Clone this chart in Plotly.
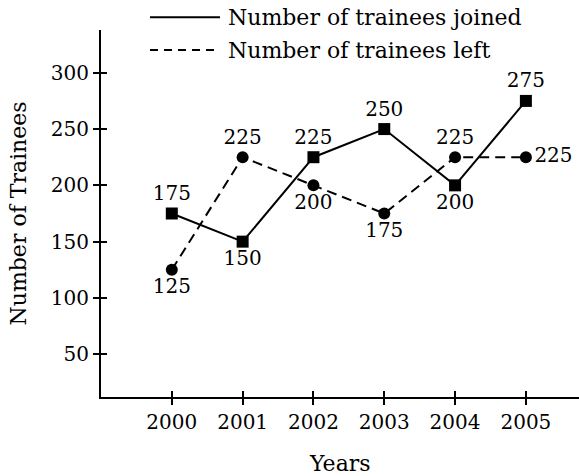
import plotly.graph_objects as go

years = [2000, 2001, 2002, 2003, 2004, 2005]
joined = [175, 150, 225, 250, 200, 275]
left = [125, 225, 200, 175, 225, 225]
joined_pos = ["top center", "bottom center", "top center", "top center", "bottom center", "top center"]
left_pos = ["bottom center", "top center", "bottom center", "bottom center", "top center", "middle right"]
y_ticks = [50, 100, 150, 200, 250, 300]
legend_labels = ["Number of trainees joined", "Number of trainees left"]

FONT = "DejaVu Serif"
FS = 20
FW = 22

fig = go.Figure()
fig.add_trace(go.Scatter(
    x=years, y=joined, mode="lines+markers+text",
    line=dict(color="black", width=2),
    marker=dict(symbol="square", size=12, color="black"),
    text=[str(v) for v in joined], textposition=joined_pos,
    textfont=dict(family=FONT, size=FS, color="black"),
    showlegend=False, cliponaxis=False,
))
fig.add_trace(go.Scatter(
    x=years, y=left, mode="lines+markers+text",
    line=dict(color="black", width=2, dash="10px,6px"),
    marker=dict(symbol="circle", size=12, color="black"),
    text=[str(v) for v in left],
    textposition=left_pos,
    textfont=dict(family=FONT, size=FS, color="black"),
    showlegend=False, cliponaxis=False,
))
# dummy trace for overlay axes (inside ticks -> crossing tick marks)
fig.add_trace(go.Scatter(x=[2000], y=[100], xaxis="x2", yaxis="y2", mode="markers",
                         marker=dict(opacity=0), showlegend=False, hoverinfo="skip"))

xr = [1999.0, 2005.75]
yr = [12, 338]
fig.update_layout(
    width=579, height=476,
    margin=dict(l=101, r=0, t=30, b=79),
    paper_bgcolor="white", plot_bgcolor="white",
    font=dict(family=FONT, size=FS, color="black"),
    xaxis=dict(range=xr, tickvals=years, ticktext=[str(y) for y in years], automargin=False,
               showgrid=False, zeroline=False, showline=True, linecolor="black", linewidth=2,
               ticks="outside", ticklen=6, tickwidth=2, tickcolor="black"),
    yaxis=dict(range=yr, tickvals=y_ticks, automargin=False,
               showgrid=False, zeroline=False, showline=True, linecolor="black", linewidth=2,
               ticks="outside", ticklen=6, tickwidth=2, tickcolor="black"),
    xaxis2=dict(range=xr, overlaying="x", side="bottom", tickvals=years, showticklabels=False,
                automargin=False, showgrid=False, zeroline=False, showline=False,
                ticks="inside", ticklen=6, tickwidth=2, tickcolor="black"),
    yaxis2=dict(range=yr, overlaying="y", side="left", tickvals=y_ticks, showticklabels=False,
                automargin=False, showgrid=False, zeroline=False, showline=False,
                ticks="inside", ticklen=6, tickwidth=2, tickcolor="black"),
)

# axis titles
fig.add_annotation(xref="paper", yref="paper", x=0.5, y=0, yshift=-66, text="Years",
                   showarrow=False, xanchor="center", yanchor="middle",
                   font=dict(family=FONT, size=FW, color="black"))
fig.add_annotation(xref="paper", yref="paper", x=0, y=0.5, xshift=-83, text="Number of Trainees",
                   textangle=-90, showarrow=False, xanchor="center", yanchor="middle",
                   font=dict(family=FONT, size=FW, color="black"))

# manual legend (line samples + labels) in paper coordinates
x0, x1, xt = 0.1025, 0.249, 0.2615
rows = [1.035, 0.9455]
dashes = ["solid", "8px,6px"]
for yy, d, lab in zip(rows, dashes, legend_labels):
    fig.add_shape(type="line", xref="paper", yref="paper", x0=x0, x1=x1, y0=yy, y1=yy,
                  line=dict(color="black", width=2, dash=d))
    fig.add_annotation(xref="paper", yref="paper", x=xt, y=yy, text=lab, showarrow=False,
                       xanchor="left", yanchor="middle",
                       font=dict(family=FONT, size=FW, color="black"))

fig.write_html("out.html", config={"displayModeBar": False},
               post_script="document.body.style.margin='0px';document.body.style.padding='0px';")
